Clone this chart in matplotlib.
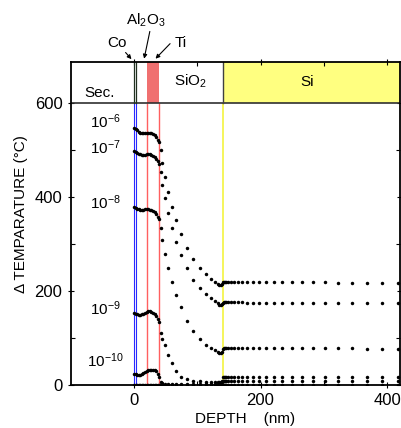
import matplotlib
matplotlib.use("Agg")
import matplotlib.pyplot as plt
from matplotlib.ticker import FixedLocator

plt.rcParams['font.family'] = ['Liberation Sans', 'DejaVu Sans']
plt.rcParams['mathtext.fontset'] = 'custom'
plt.rcParams['mathtext.rm'] = 'Liberation Sans'
plt.rcParams['mathtext.it'] = 'Liberation Sans:italic'
plt.rcParams['mathtext.bf'] = 'Liberation Sans:bold'

# ---------------- data ----------------
depth_metal = [0, 2.5, 5, 7.5, 10, 12.5, 15, 17.5, 20, 22.5, 25, 27.5, 30, 32.5, 35, 37.5, 40]
depth_sio2 = [42.5, 45, 48.5, 54, 59.5, 67, 75, 84.5, 93.5, 104, 114, 122, 128, 132, 135, 137.5, 139.5]
depth_si = [140, 141.5, 143.5, 146, 149, 153, 158, 164, 171, 179, 188, 198, 209, 221, 234,
            249, 265, 283, 302, 323, 345, 368, 392, 417]
depth = depth_metal + depth_sio2 + depth_si

time_labels = ['$10^{-6}$', '$10^{-7}$', '$10^{-8}$', '$10^{-9}$', '$10^{-10}$']
label_y = [560, 504, 388, 162, 52]

temp_1e6 = ([547, 545, 542, 539, 537, 536, 536, 536, 537, 537, 537, 536, 534, 531, 527, 522, 517]
            + [500, 472, 443, 411, 379, 351, 321, 292, 267, 249, 236, 226, 219, 214, 212, 212, 214]
            + [219, 220, 220, 220, 220, 220, 220, 220, 220, 220, 220, 220, 220, 220, 219,
               219, 219, 219, 219, 218, 218, 218, 217, 217])
temp_1e7 = ([498, 496, 494, 492, 491, 490, 490, 490, 491, 491, 491, 490, 488, 485, 481, 476, 470]
            + [453, 425, 398, 366, 333, 305, 276, 248, 223, 206, 193, 184, 178, 174, 171, 170, 172]
            + [175, 176, 176, 176, 176, 176, 176, 176, 176, 175, 175, 175, 175, 175, 175,
               175, 175, 175, 174, 174, 174, 174, 174, 174])
temp_1e8 = ([379, 377, 375, 374, 373, 373, 373, 374, 374, 374, 373, 372, 370, 367, 363, 358, 354]
            + [333, 309, 278, 248, 219, 192, 165, 137, 114, 98, 86, 78, 74, 71, 69, 69, 71]
            + [77, 78, 78, 78, 78, 78, 78, 78, 78, 78, 78, 78, 78, 78, 78,
               78, 78, 78, 78, 78, 78, 77, 77, 77])
temp_1e9 = ([154, 152, 150, 149, 149, 150, 152, 154, 156, 157, 157, 156, 154, 151, 147, 141, 135]
            + [110, 98, 85, 64, 46, 29, 18, 12, 9, 8, 7, 7, 7, 6, 6, 6, 8]
            + [16, 17, 17, 17, 17, 17, 17, 17, 17, 17, 17, 17, 17, 17, 17,
               17, 17, 17, 17, 17, 17, 17, 17, 17])
temp_1e10 = ([24, 23, 22, 22, 22, 23, 25, 27, 29, 31, 32, 32, 32, 31, 29, 24, 16]
             + [7, 4, 3, 2, 2, 2, 2, 2, 2, 2, 2, 2, 2, 2, 2, 2, 3]
             + [8, 9, 9, 9, 9, 9, 9, 9, 9, 9, 9, 9, 9, 9, 9,
                9, 9, 9, 9, 9, 9, 9, 9, 9])
temp_base = [0] * len(depth)

series = [temp_1e6, temp_1e7, temp_1e8, temp_1e9, temp_1e10, temp_base]

# layers (nm)
co_edges = [0, 3]
ti_edges = [20, 40]
si_start = 140

# ---------------- figure ----------------
fig = plt.figure(figsize=(4.02, 4.28), dpi=100)
ax = fig.add_axes([70.75 / 402, 43 / 428, (399.7 - 70.75) / 402, 323 / 428])
XMIN, XMAX, YMAX = -100, 420, 687
ax.set_xlim(XMIN, XMAX)
ax.set_ylim(0, YMAX)

# layer band on top
ax.fill_between(ti_edges, 600, YMAX, color='#f07070', lw=0, zorder=1)
ax.fill_between([si_start, XMAX], 600, YMAX, color='#ffff80', lw=0, zorder=1)
ax.axhline(600, color='#303030', lw=1.2, zorder=3)
for xv in co_edges:
    ax.plot([xv, xv], [600, YMAX], color='#203020', lw=0.9, zorder=3)
ax.plot([si_start, si_start], [600, YMAX], color='#404040', lw=1.0, zorder=3)
ax.text(90, 645, 'SiO$_2$', ha='center', va='center', fontsize=11)
ax.text(273, 645, 'Si', ha='center', va='center', fontsize=11)

# layer boundaries below
ax.vlines(co_edges, 0, 600, color='#2828ff', lw=0.8, zorder=2)
ax.vlines(ti_edges, 0, 600, color='#ff6060', lw=1.0, zorder=2)
ax.vlines([si_start], 0, 600, color='#f4f440', lw=1.2, zorder=2)

# curves
for temps in series:
    ax.plot(depth, temps, linestyle='none', marker='o', markersize=2.5,
            color='black', markeredgewidth=0, zorder=4, clip_on=True)

# time labels
ax.text(-55, 621, 'Sec.', ha='center', va='center', fontsize=11)
for lab, yv in zip(time_labels, label_y):
    ax.text(-45, yv, lab, ha='center', va='center', fontsize=11)

# annotations above the axes
arrow = dict(arrowstyle='-|>', color='black', lw=0.8, mutation_scale=6,
             shrinkA=0, shrinkB=0)
ax.annotate('Co', xy=(-4, 693), xytext=(-27, 728), ha='center', va='center',
            fontsize=11, arrowprops=arrow, annotation_clip=False)
ax.annotate('', xy=(16, 694), xytext=(25, 752), arrowprops=arrow,
            annotation_clip=False)
ax.text(19, 775, 'Al$_2$O$_3$', ha='center', va='center', fontsize=11, clip_on=False)
ax.annotate('', xy=(34, 694), xytext=(57, 726), arrowprops=arrow,
            annotation_clip=False)
ax.text(73, 728, 'Ti', ha='center', va='center', fontsize=11, clip_on=False)

# ticks
ax.xaxis.set_major_locator(FixedLocator([0, 200, 400]))
ax.xaxis.set_minor_locator(FixedLocator([100, 300]))
ax.yaxis.set_major_locator(FixedLocator([0, 200, 400, 600]))
ax.yaxis.set_minor_locator(FixedLocator([100, 300, 500]))
ax.tick_params(which='major', direction='inout', length=5, width=0.8,
               top=True, right=True, labelsize=12)
ax.tick_params(which='minor', direction='in', length=3, width=0.8,
               top=True, right=True)
for sp in ax.spines.values():
    sp.set_linewidth(1.3)
    sp.set_zorder(5)

ax.set_xlabel('DEPTH    (nm)', fontsize=11)
ax.set_ylabel('Δ TEMPARATURE (°C)', fontsize=11)
ax.yaxis.set_label_coords(-0.13, 0.53)
ax.xaxis.set_label_coords(0.53, -0.085)

fig.savefig('out.png', dpi=100)
